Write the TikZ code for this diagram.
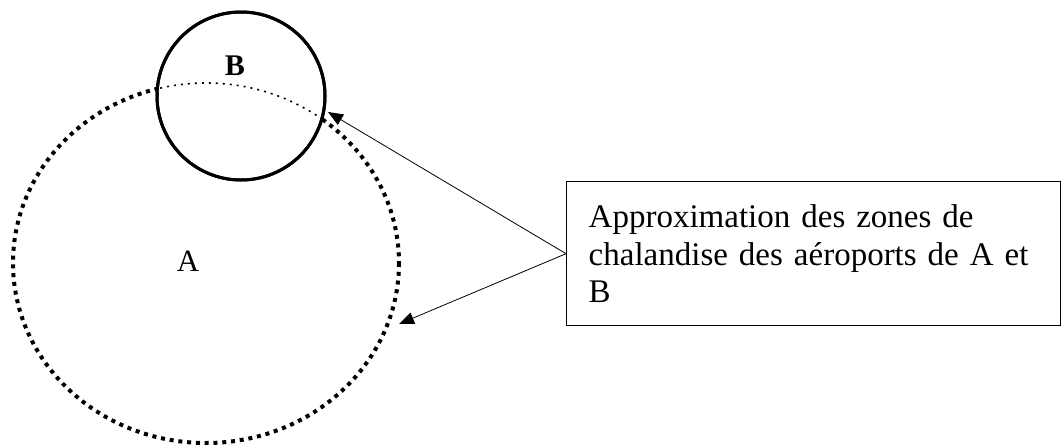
\documentclass[tikz,border=0pt]{standalone}
\usepackage{fontspec}
\setmainfont{Liberation Serif}
\usetikzlibrary{arrows.meta}
\begin{document}
\begin{tikzpicture}[x=1pt,y=-1pt,
  zoneA/.style={line width=4pt, dash pattern=on 4pt off 4.8pt},
  zoneAin/.style={line width=1.6pt, dash pattern=on 2pt off 5pt},
  zoneB/.style={line width=3pt, fill=white},
  pointer/.style={line width=0.8pt, -{Triangle[length=15pt,width=12pt]}},
  lbl/.style={font=\fontsize{31}{31}\selectfont, inner sep=0pt},
  infobox/.style={draw, line width=1.4pt, anchor=north west, minimum width=494pt, minimum height=144pt,
    text width=450pt, align=left, inner xsep=22pt,
    font=\fontsize{33}{37.5}\selectfont}]
\useasboundingbox (0,0) rectangle (1061,445);
% zone A
\draw[zoneA] (206,263) ellipse [x radius=193, y radius=180];
% zone B
\draw[zoneB] (241,96) circle [radius=84];
\begin{scope}
  \clip (241,96) circle [radius=82.5];
  \draw[zoneAin] (206,263) ellipse [x radius=193, y radius=180];
\end{scope}
\draw[line width=3pt] (241,96) circle [radius=84];
\node[lbl, font=\fontsize{30}{30}\selectfont\bfseries] (labB) at (235,66) {B};
\node[lbl] (labA) at (188,261) {A};
% info box
\node[infobox] (box) at (566,181) {Approximation des zones de\\chalandise des aéroports de A et\\B};
\coordinate (tipB) at (328,112);
\coordinate (tipA) at (399,324);
\draw[pointer] (box.west) -- (tipB);
\draw[pointer] (box.west) -- (tipA);
\end{tikzpicture}
\end{document}
